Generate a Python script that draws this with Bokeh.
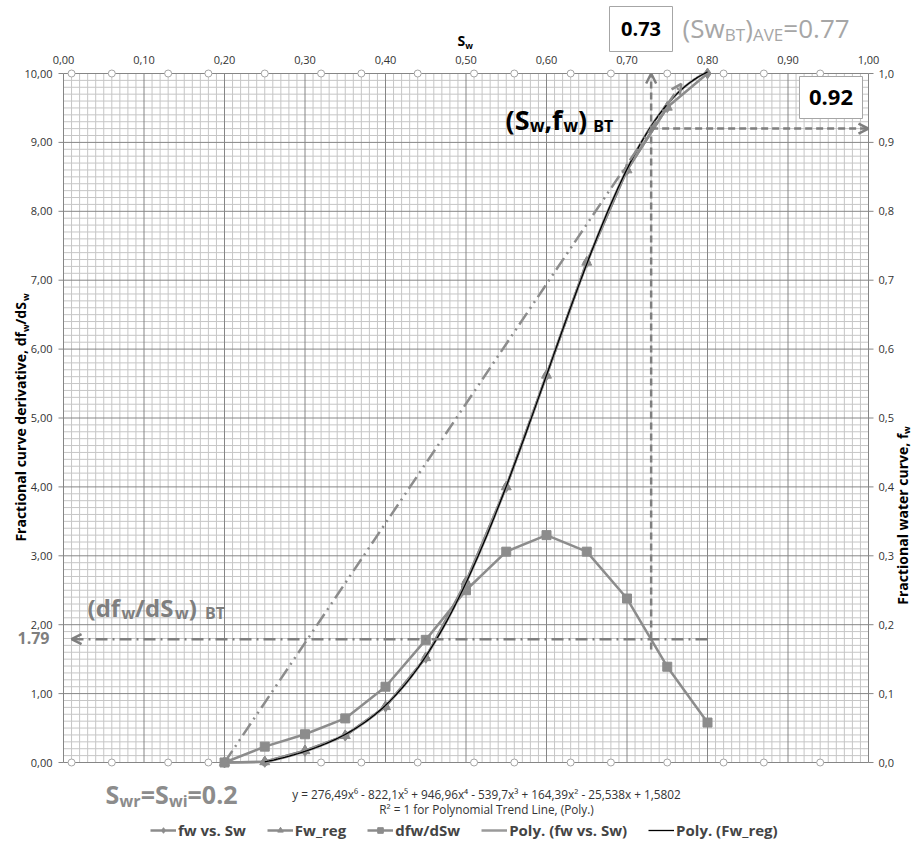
import math
import numpy as np
from bokeh.plotting import figure
from bokeh.models import Range1d, Label, Arrow, OpenHead, Legend, LegendItem
from bokeh.core.properties import value
from bokeh.embed import file_html
from bokeh.resources import INLINE

# ---------------- data ----------------
sw = [0.20, 0.25, 0.30, 0.35, 0.40, 0.45, 0.50, 0.55, 0.60, 0.65, 0.70, 0.75, 0.80]
fw_vs_sw = [0.0, 0.001, 0.017, 0.039, 0.081, 0.152, 0.262, 0.400, 0.562, 0.726, 0.860, 0.951, 1.000]
sw_reg = [0.20, 0.25, 0.30, 0.35, 0.40, 0.45, 0.50, 0.55, 0.60, 0.65, 0.70, 0.75]
fw_reg = [0.0, 0.001, 0.017, 0.039, 0.081, 0.152, 0.262, 0.400, 0.562, 0.726, 0.860, 0.951]
dfw_dsw = [0.0, 0.23, 0.41, 0.64, 1.10, 1.78, 2.50, 3.06, 3.30, 3.06, 2.38, 1.39, 0.58]
poly_coef = [276.49, -822.1, 946.96, -539.7, 164.39, -25.538, 1.5802]
poly_sw_range = [0.25, 0.80]
edge_marker_sw = [0.01, 0.06, 0.13, 0.18, 0.25, 0.32, 0.37, 0.44, 0.51, 0.56, 0.63, 0.68,
                  0.75, 0.82, 0.87, 0.94]

sw_wi = 0.20
sw_bt = 0.73
fw_bt = 0.92
dfw_bt = 1.79
sw_bt_ave = 0.77

x_ticks = [0.0, 0.1, 0.2, 0.3, 0.4, 0.5, 0.6, 0.7, 0.8, 0.9, 1.0]
x_tick_labels = ["0,00", "0,10", "0,20", "0,30", "0,40", "0,50", "0,60", "0,70", "0,80", "0,90", "1,00"]
y_ticks = [0, 1, 2, 3, 4, 5, 6, 7, 8, 9, 10]
y_tick_labels = ["0,00", "1,00", "2,00", "3,00", "4,00", "5,00", "6,00", "7,00", "8,00", "9,00", "10,00"]
fw_ticks = [0.0, 0.1, 0.2, 0.3, 0.4, 0.5, 0.6, 0.7, 0.8, 0.9, 1.0]
fw_tick_labels = ["0,0", "0,1", "0,2", "0,3", "0,4", "0,5", "0,6", "0,7", "0,8", "0,9", "1,0"]

legend_labels = ["fw vs. Sw", "Fw_reg", "dfw/dSw", "Poly. (fw vs. Sw)", "Poly. (Fw_reg)"]
eq_line1 = "y = 276,49x\u2076 - 822,1x\u2075 + 946,96x\u2074 - 539,7x\u00b3 + 164,39x\u00b2 - 25,538x + 1,5802"
eq_line2 = "R\u00b2 = 1 for Polynomial Trend Line, (Poly.)"

# ---------------- layout ----------------
FONT = "Open Sans"
GRAY = "#8c8c8c"
DGRAY = "#7f7f7f"
AXC = "#868686"
MINC = "#c6c6c6"
Y_MAX = 10.0
FW_MAX = 1.0
W, H = 914, 853
FL, FT, FW_PX, FH_PX = 63, 73, 805, 689   # plot box inside the canvas (px)

xpp = 1.0 / FW_PX          # data per px (x)
ypp = Y_MAX / FH_PX        # data per px (y)
x0 = -FL * xpp
x1 = (W - FL) * xpp
y1 = Y_MAX + FT * ypp
y0 = Y_MAX - (H - FT) * ypp

p = figure(width=W, height=H, x_range=Range1d(x0, x1), y_range=Range1d(y0, y1),
           x_axis_location=None, y_axis_location=None, output_backend="svg",
           toolbar_location=None, min_border=0)
p.outline_line_color = None
p.background_fill_color = "white"
p.xgrid.visible = False
p.ygrid.visible = False
p.extra_y_ranges = {"fw": Range1d(y0 / Y_MAX * FW_MAX, y1 / Y_MAX * FW_MAX)}


def X(px):
    return (px - FL) * xpp


def Y(py):
    return (FT + FH_PX - py) * ypp


# grid
minor_x = [round(i * 0.01, 2) for i in range(101) if i % 10]
minor_y = [round(i * 0.1, 1) for i in range(101) if i % 10]
p.segment(x0=[0] * len(minor_y), y0=minor_y, x1=[1] * len(minor_y), y1=minor_y,
          line_color=MINC, line_width=1)
p.segment(x0=minor_x, y0=[0] * len(minor_x), x1=minor_x, y1=[Y_MAX] * len(minor_x),
          line_color=MINC, line_width=1)
p.segment(x0=[0] * len(y_ticks), y0=y_ticks, x1=[1] * len(y_ticks), y1=y_ticks,
          line_color=AXC, line_width=1)
p.segment(x0=x_ticks, y0=[0] * len(x_ticks), x1=x_ticks, y1=[Y_MAX] * len(x_ticks),
          line_color=AXC, line_width=1)

# axis ticks + labels (left, right, top)
TICK = 5 * xpp
p.segment(x0=[0] * len(y_ticks), y0=y_ticks, x1=[-TICK] * len(y_ticks), y1=y_ticks,
          line_color=AXC, line_width=1)
p.segment(x0=[1] * len(fw_ticks), y0=fw_ticks, x1=[1 + TICK] * len(fw_ticks), y1=fw_ticks,
          y_range_name="fw", line_color=AXC, line_width=1)
p.text(x=[-11 * xpp] * len(y_ticks), y=y_ticks, text=y_tick_labels, text_font=value(FONT),
       text_font_size="11px", text_color="#333333", text_align="right", text_baseline="middle")
p.text(x=[1 + 10 * xpp] * len(fw_ticks), y=fw_ticks, text=fw_tick_labels, y_range_name="fw",
       text_font=value(FONT), text_font_size="11px", text_color="#333333", text_align="left",
       text_baseline="middle")
p.text(x=x_ticks, y=[Y_MAX + 14 * ypp] * len(x_ticks), text=x_tick_labels, text_font=value(FONT),
       text_font_size="11px", text_color="#333333", text_align="center", text_baseline="middle")

# edge circles
for yy in (0, Y_MAX):
    p.scatter(edge_marker_sw, [yy] * len(edge_marker_sw), marker="circle", size=7,
              fill_color="white", line_color="#a6a6a6", line_width=1)

# series
dfw_line = p.line(sw, dfw_dsw, line_color=GRAY, line_width=2.5)
dfw_sq = p.scatter(sw, dfw_dsw, marker="square", size=9, fill_color=GRAY, line_color=GRAY)

fw_line = p.line(sw, fw_vs_sw, y_range_name="fw", line_color=GRAY, line_width=2.5)
fw_dia = p.scatter(sw, fw_vs_sw, y_range_name="fw", marker="diamond", size=11,
                   fill_color=GRAY, line_color=GRAY)
reg_line = p.line(sw_reg, fw_reg, y_range_name="fw", line_color=GRAY, line_width=2.5)
reg_tri = p.scatter(sw_reg, fw_reg, y_range_name="fw", marker="triangle", size=10,
                    fill_color=GRAY, line_color=GRAY)

xs_poly = np.linspace(poly_sw_range[0], poly_sw_range[1], 200)
ys_poly = np.polyval(poly_coef, xs_poly)
poly_gray = p.line(xs_poly, ys_poly, y_range_name="fw", line_color="#9a9a9a", line_width=2.5)
poly_black = p.line(xs_poly, ys_poly, y_range_name="fw", line_color="black", line_width=1.3)

# value boxes
p.rect(x=[X(640.5), X(830.5)], y=[Y(28.5), Y(97)], width=[63, 63], height=[45, 42],
       width_units="screen", height_units="screen", fill_color="white",
       line_color="#a6a6a6", line_width=1)

# construction lines
ratio = Y_MAX / FW_MAX
slope = fw_bt * ratio / (sw_bt - sw_wi)
tan_top = 9.85
p.add_layout(Arrow(end=OpenHead(size=10, line_color=GRAY, line_width=2.5),
                   x_start=sw_wi, y_start=0, x_end=sw_wi + tan_top / slope, y_end=tan_top,
                   line_color=GRAY, line_width=2.5, line_dash="14 5 2 5 2 5"))
p.add_layout(Arrow(end=OpenHead(size=10, line_color=DGRAY, line_width=2.5),
                   x_start=sw_bt, y_start=dfw_bt - 0.15, x_end=sw_bt, y_end=Y_MAX,
                   line_color=DGRAY, line_width=2.5, line_dash="7 4"))
p.add_layout(Arrow(end=OpenHead(size=10, line_color=DGRAY, line_width=2.5),
                   x_start=sw_bt, y_start=fw_bt * ratio, x_end=1.0, y_end=fw_bt * ratio,
                   line_color=DGRAY, line_width=2.5, line_dash="7 4"))
p.add_layout(Arrow(end=OpenHead(size=10, line_color=DGRAY, line_width=2.5),
                   x_start=0.80, y_start=dfw_bt, x_end=0.01, y_end=dfw_bt,
                   line_color=DGRAY, line_width=2.5, line_dash="12 5 2 5"))

# ---------------- rich text helper ----------------
WID_R = {' ': 0.26, '(': 0.296, ')': 0.296, ',': 0.245, '.': 0.266, '/': 0.367, '=': 0.572,
         'A': 0.633, 'B': 0.648, 'E': 0.556, 'F': 0.516, 'S': 0.55, 'T': 0.556, 'V': 0.604,
         'a': 0.556, 'c': 0.476, 'd': 0.613, 'e': 0.561, 'f': 0.339, 'i': 0.253, 'l': 0.253,
         'n': 0.614, 'o': 0.604, 'r': 0.408, 't': 0.353, 'u': 0.614, 'v': 0.5, 'w': 0.778}
WID_B = {' ': 0.26, '(': 0.344, ')': 0.344, ',': 0.289, '.': 0.297, '/': 0.455, '=': 0.572,
         'A': 0.69, 'B': 0.70, 'E': 0.57, 'F': 0.575, 'S': 0.56, 'T': 0.60, 'V': 0.66,
         'a': 0.586, 'c': 0.51, 'd': 0.653, 'e': 0.576, 'f': 0.416, 'i': 0.305, 'l': 0.305,
         'n': 0.657, 'o': 0.619, 'r': 0.473, 't': 0.416, 'u': 0.657, 'v': 0.563, 'w': 0.853}


def tw(s, size, bold):
    table = WID_B if bold else WID_R
    return sum(0.572 if c.isdigit() else table.get(c, 0.58) for c in s) * size


MID = 0.33   # distance (em) from alphabetic baseline to the "middle" anchor


def rich(x, y, parts, color, bold=True, angle=0.0, center=False):
    """parts: (text, font px, downward shift px, gap px before); y is the baseline."""
    total = sum(tw(t, s, bold) + g for t, s, _, g in parts)
    off = -total / 2 if center else 0.0
    for text, size, shift, gap in parts:
        off += gap
        if angle == 0:
            xo, yo = off, -shift + MID * size
        else:
            xo, yo = shift - MID * size, off
        p.add_layout(Label(x=x, y=y, x_offset=xo, y_offset=yo, text=text, angle=angle,
                           text_font=FONT, text_font_size=f"{size}px",
                           text_font_style="bold" if bold else "normal",
                           text_color=color, text_align="left", text_baseline="middle"))
        off += tw(text, size, bold)


# axis titles
rich(X(457), Y(45), [("S", 14, 0, 0), ("w", 9, 3, 0)], "black")
rich(X(25), Y(417), [("Fractional curve derivative, df", 14, 0, 0), ("w", 9, 3, 0),
                     ("/dS", 14, 0, 0), ("w", 9, 3, 0)], "black", angle=math.pi / 2, center=True)
rich(X(907), Y(515), [("Fractional water curve, f", 14, 0, 0), ("w", 9, 2, 0)], "black",
     angle=math.pi / 2, center=True)

# annotations
rich(X(505), Y(128), [("(S", 27, 0, 0), ("w", 17, 3, 0), (",f", 27, 0, 0), ("w", 17, 3, 0),
                      (")", 27, 0, 0), ("BT", 16, 3, 6)], "black")
rich(X(87), Y(615), [("(df", 24, 0, 0), ("w", 16, 3, 0), ("/dS", 24, 0, 0), ("w", 16, 3, 0),
                     (")", 24, 0, 0), ("BT", 16, 3, 8)], DGRAY)
rich(X(105), Y(802), [("S", 25, 0, 0), ("wr", 16, 4, 0), ("=S", 25, 0, 0), ("wi", 16, 4, 0),
                      ("=0.2", 25, 0, 0)], GRAY)
rich(X(682), Y(36), [("(Sw", 26, 0, 0), ("BT", 17, 4, 0), (")", 26, 0, 0), ("AVE", 17, 4, 0),
                     ("=0.77", 26, 0, 0)], "#a6a6a6", bold=False)

p.add_layout(Label(x=X(640.5), y=Y(28.5), text=f"{sw_bt:.2f}", text_font=FONT,
                   text_font_size="20px", text_font_style="bold", text_color="black",
                   text_align="center", text_baseline="middle"))
p.add_layout(Label(x=X(830.5), y=Y(97), text=f"{fw_bt:.2f}", text_font=FONT,
                   text_font_size="22px", text_font_style="bold", text_color="black",
                   text_align="center", text_baseline="middle"))
p.add_layout(Label(x=X(49), y=Y(637), text=f"{dfw_bt:.2f}", text_font=FONT, text_font_size="16px",
                   text_font_style="bold", text_color=DGRAY, text_align="right",
                   text_baseline="middle"))

p.add_layout(Label(x=X(486), y=Y(793), text=eq_line1, text_font=FONT, text_font_size="11.8px",
                   text_color="#333333", text_align="center", text_baseline="middle"))
p.add_layout(Label(x=X(486), y=Y(808), text=eq_line2, text_font=FONT, text_font_size="11.8px",
                   text_color="#333333", text_align="center", text_baseline="middle"))

# legend
legend = Legend(items=[LegendItem(label=legend_labels[0], renderers=[fw_line, fw_dia]),
                       LegendItem(label=legend_labels[1], renderers=[reg_line, reg_tri]),
                       LegendItem(label=legend_labels[2], renderers=[dfw_line, dfw_sq]),
                       LegendItem(label=legend_labels[3], renderers=[poly_gray]),
                       LegendItem(label=legend_labels[4], renderers=[poly_black])],
                orientation="horizontal", location=(150, 13),
                label_text_font=FONT, label_text_font_size="15px", label_text_font_style="bold",
                glyph_width=26, glyph_height=14, label_standoff=2, spacing=21,
                padding=0, margin=0, border_line_color=None, background_fill_alpha=0)
p.add_layout(legend)

open("out.html", "w").write(file_html(p, INLINE))
